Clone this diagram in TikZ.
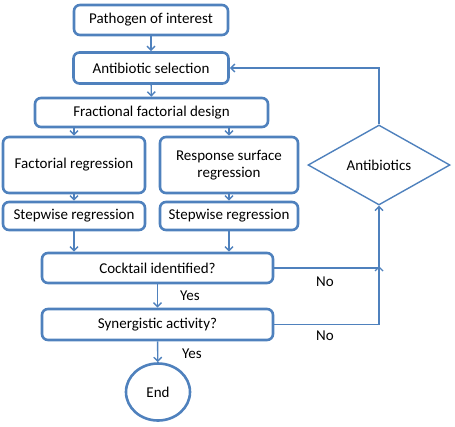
\documentclass[tikz,border=0pt]{standalone}
\usepackage{fontspec}
\setmainfont{Carlito}
\usetikzlibrary{arrows.meta,shapes.geometric}
\definecolor{obl}{HTML}{4F81BD}
\begin{document}
\begin{tikzpicture}[x=1pt,y=-1pt,
  box/.style={draw=obl,line width=2.6pt,rounded corners=6pt,rectangle,align=center,font=\fontsize{15}{17.5}\selectfont,inner sep=1pt},
  conn/.style={draw=obl,line width=1.4pt},
  arr/.style={conn,-{Straight Barb[length=4pt,width=8pt]}},
  lbl/.style={font=\fontsize{15}{17.5}\selectfont}]
\useasboundingbox (0,0) rectangle (455,426);
\node[box,minimum width=154pt,minimum height=30pt] (path) at (151,20) {Pathogen of interest};
\node[box,minimum width=155pt,minimum height=31pt] (sel) at (151,68) {Antibiotic selection};
\node[box,minimum width=233pt,minimum height=29pt] (ffd) at (151.5,112.5) {Fractional factorial design};
\node[box,minimum width=142pt,minimum height=56pt] (fr) at (74,165) {Factorial regression};
\node[box,minimum width=138pt,minimum height=56pt] (rsr) at (229,165) {Response surface\\regression};
\node[box,minimum width=142pt,minimum height=28pt] (sw1) at (74,216) {Stepwise regression};
\node[box,minimum width=138pt,minimum height=28pt] (sw2) at (229,216) {Stepwise regression};
\node[box,minimum width=231pt,minimum height=30pt] (ck) at (157.5,268) {Cocktail identified?};
\node[box,minimum width=231pt,minimum height=31pt] (syn) at (157.5,324.5) {Synergistic activity?};
\node[draw=obl,line width=2.6pt,ellipse,minimum width=64pt,minimum height=57pt,inner sep=0pt,font=\fontsize{15}{17.5}\selectfont] (end) at (158,392) {End};
\node[draw=obl,line width=1.4pt,diamond,minimum width=142pt,minimum height=80pt,inner sep=0pt,aspect=1.775,font=\fontsize{15}{17.5}\selectfont] (dia) at (379,165) {Antibiotics};
\coordinate (j1) at (dia.south |- ck.east);
\draw[arr] (path) -- (sel);
\draw[arr] (sel) -- (ffd);
\draw[arr] (ffd.south -| fr) -- (fr);
\draw[arr] (ffd.south -| rsr) -- (rsr);
\draw[arr] (fr) -- (sw1);
\draw[arr] (rsr) -- (sw2);
\draw[arr] (sw1) -- (sw1 |- ck.north);
\draw[arr] (sw2) -- (sw2 |- ck.north);
\draw[arr] (ck) -- (syn);
\draw[arr] (syn) -- (end);
\draw[arr] (ck.east) -- (j1) -- (dia.south);
\draw[arr] (syn.east) -| ([yshift=2pt]j1);
\draw[arr] (dia.north) |- (sel.east);
\node[lbl] (y1) at (190,296) {Yes};
\node[lbl] (y2) at (192,354) {Yes};
\node[lbl] (n1) at (325,282) {No};
\node[lbl] (n2) at (325,336) {No};
\end{tikzpicture}
\end{document}
